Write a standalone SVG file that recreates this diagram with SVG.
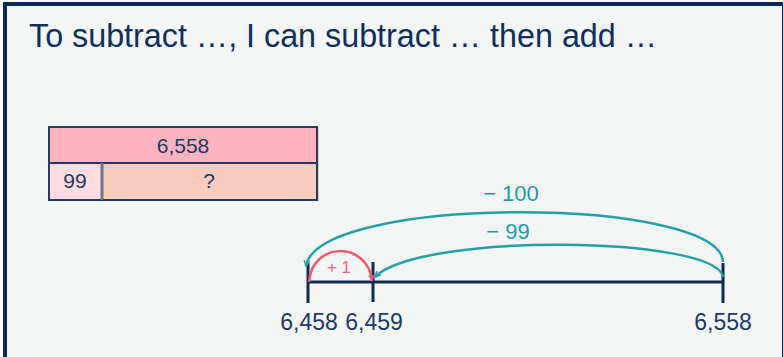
<svg xmlns="http://www.w3.org/2000/svg" width="783" height="357" viewBox="0 0 783 357">
  <style>
    .t { font-family: "Liberation Sans", Arial, sans-serif; }
    .navy { fill: #1b3a66; }
    .teal { fill: #1e9ba6; }
    .tick { stroke: #0c2b59; stroke-width: 3; fill: none; }
    .arcT { stroke: #22a0a9; stroke-width: 2.5; fill: none; }
    .arcR { stroke: #f2566f; stroke-width: 2.5; fill: none; }
    .box { stroke: #1f3864; stroke-width: 2; }
  </style>
  <defs>
    <marker id="ahT" viewBox="0 0 10 10" refX="9" refY="5" markerWidth="7" markerHeight="7" markerUnits="userSpaceOnUse" orient="auto">
      <path d="M1,1 L9,5 L1,9" fill="none" stroke="#22a0a9" stroke-width="2"/>
    </marker>
    <marker id="ahR" viewBox="0 0 10 10" refX="9" refY="5" markerWidth="7" markerHeight="7" markerUnits="userSpaceOnUse" orient="auto">
      <path d="M1,1 L9,5 L1,9 Z" fill="#f2566f" stroke="#f2566f" stroke-width="1"/>
    </marker>
  </defs>
  <rect x="0" y="0" width="783" height="357" fill="#ffffff"/>
  <rect x="5" y="4" width="779" height="360" fill="#f4f6f6" stroke="#0a2c5a" stroke-width="4"/>

  <g id="title">
    <text class="t" x="29" y="47" font-size="33" fill="#0e2f5e" textLength="628" lengthAdjust="spacingAndGlyphs">To subtract …, I can subtract … then add …</text>
  </g>

  <g id="bar-model">
    <rect x="50.5" y="128.5" width="268.5" height="72.5" fill="#9fb0c8" opacity="0.4"/>
    <rect class="box" x="49" y="127" width="268" height="36" fill="#ffb3bf"/>
    <rect class="box" x="49" y="163" width="53" height="37" fill="#ffdce2"/>
    <rect class="box" x="102" y="163" width="215" height="37" fill="#f9ccc0"/>
    <line x1="102" y1="163" x2="102" y2="200" stroke="#6d7585" stroke-width="3"/>
    <text class="t navy" x="183" y="153" font-size="21" text-anchor="middle">6,558</text>
    <text class="t navy" x="75" y="188" font-size="21" text-anchor="middle">99</text>
    <text class="t navy" x="209" y="188" font-size="21" text-anchor="middle">?</text>
  </g>

  <g id="number-line">
    <line class="tick" x1="308" y1="282" x2="723" y2="282"/>
    <line class="tick" x1="308" y1="263" x2="308" y2="303"/>
    <line class="tick" x1="373" y1="262" x2="373" y2="302"/>
    <line class="tick" x1="723" y1="263" x2="723" y2="303"/>
    <text class="t navy" x="309" y="330" font-size="23" text-anchor="middle">6,458</text>
    <text class="t navy" x="374" y="330" font-size="23" text-anchor="middle">6,459</text>
    <text class="t navy" x="723" y="330" font-size="23" text-anchor="middle">6,558</text>
  </g>

  <g id="connectors">
    <path class="arcT" d="M 723 262 C 721 196, 318 194, 306 266" marker-end="url(#ahT)"/>
    <path class="arcT" d="M 723 277 C 716 236, 420 232, 375 277" marker-end="url(#ahT)"/>
    <path class="arcR" d="M 309 282 C 312 241, 368 241, 372 281" marker-end="url(#ahR)"/>
  </g>

  <g id="labels">
    <text class="t teal" x="511" y="201" font-size="22" text-anchor="middle">− 100</text>
    <text class="t teal" x="508" y="239" font-size="22" text-anchor="middle">− 99</text>
    <text class="t" x="339" y="273" font-size="17" fill="#f2667c" text-anchor="middle">+ 1</text>
  </g>
</svg>
